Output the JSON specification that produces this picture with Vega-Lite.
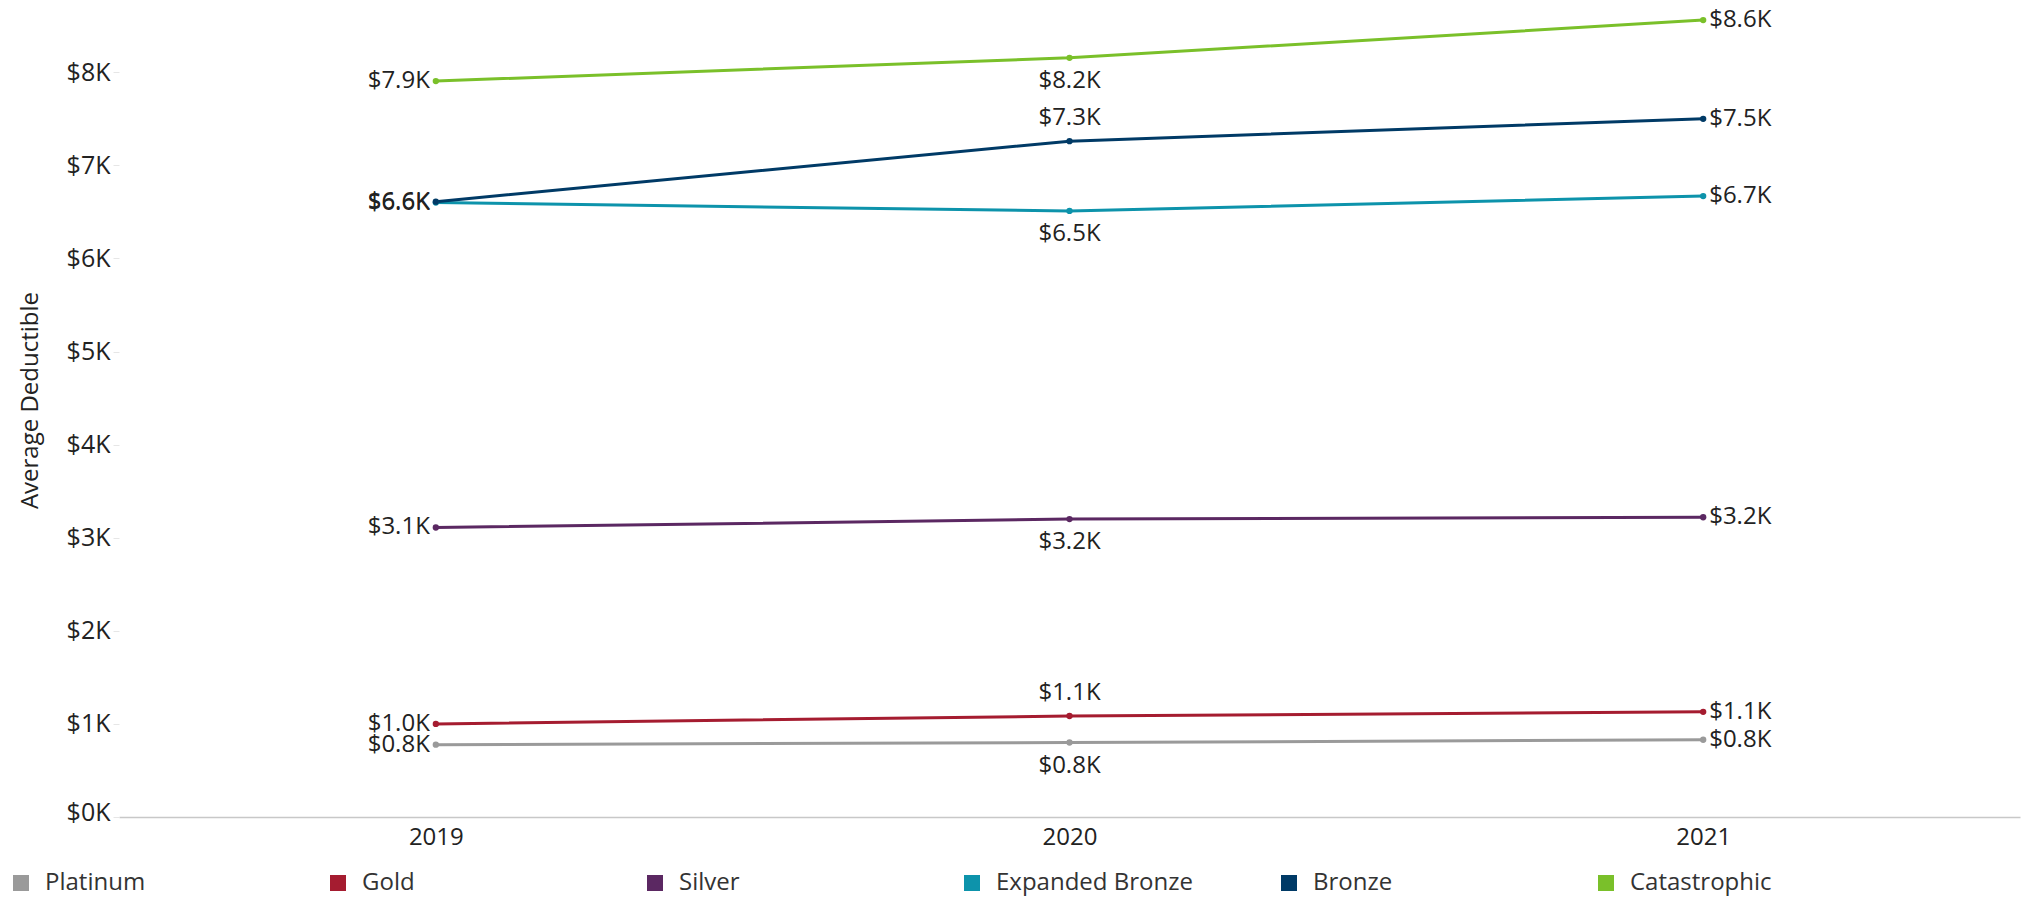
{
  "$schema": "https://vega.github.io/schema/vega-lite/v6.json",
  "autosize": {"type": "none"},
  "padding": {"left": 119, "top": 0, "right": 3, "bottom": 81},
  "width": 1901,
  "height": 817,
  "config": {
    "view": {"stroke": null},
    "font": "Open Sans",
    "background": "white"
  },
  "data": {
    "values": [
      {"year": "2019", "plan": "Platinum", "value": 777},
      {"year": "2020", "plan": "Platinum", "value": 800},
      {"year": "2021", "plan": "Platinum", "value": 830},
      {"year": "2019", "plan": "Gold", "value": 1000},
      {"year": "2020", "plan": "Gold", "value": 1085},
      {"year": "2021", "plan": "Gold", "value": 1130},
      {"year": "2019", "plan": "Silver", "value": 3110},
      {"year": "2020", "plan": "Silver", "value": 3200},
      {"year": "2021", "plan": "Silver", "value": 3220},
      {"year": "2019", "plan": "Expanded Bronze", "value": 6600},
      {"year": "2020", "plan": "Expanded Bronze", "value": 6510},
      {"year": "2021", "plan": "Expanded Bronze", "value": 6670},
      {"year": "2019", "plan": "Bronze", "value": 6610},
      {"year": "2020", "plan": "Bronze", "value": 7260},
      {"year": "2021", "plan": "Bronze", "value": 7500},
      {"year": "2019", "plan": "Catastrophic", "value": 7905},
      {"year": "2020", "plan": "Catastrophic", "value": 8155},
      {"year": "2021", "plan": "Catastrophic", "value": 8560}
    ]
  },
  "transform": [
    {"calculate": "'$' + format(datum.value / 1000, '.1f') + 'K'", "as": "label"}
  ],
  "encoding": {
    "x": {
      "field": "year",
      "type": "ordinal",
      "scale": {"type": "point", "padding": 0.5},
      "axis": {
        "title": null,
        "labelAngle": 0,
        "labelFontSize": 24,
        "labelColor": "#222",
        "labelPadding": 8,
        "ticks": false,
        "domain": true,
        "domainColor": "#c8c8c8",
        "domainWidth": 1.5,
        "grid": false
      }
    },
    "y": {
      "field": "value",
      "type": "quantitative",
      "scale": {"domain": [0, 8776], "nice": false, "zero": true},
      "axis": {
        "title": "Average Deductible",
        "titleFontSize": 24,
        "titleFontWeight": "normal",
        "titleColor": "#222",
        "titleX": -89,
        "titleY": 400,
        "titleAngle": 270,
        "titleAlign": "center",
        "titleBaseline": "middle",
        "values": [0, 1000, 2000, 3000, 4000, 5000, 6000, 7000, 8000],
        "labelExpr": "'$' + (datum.value / 1000) + 'K'",
        "labelFontSize": 25,
        "labelColor": "#222",
        "labelPadding": 3,
        "labelFlush": true,
        "labelFlushOffset": 8,
        "tickSize": 6,
        "tickColor": "#e6e6e6",
        "domain": false,
        "grid": false
      }
    },
    "color": {
      "field": "plan",
      "type": "nominal",
      "scale": {
        "domain": ["Platinum", "Gold", "Silver", "Expanded Bronze", "Bronze", "Catastrophic"],
        "range": ["#9a9a9a", "#a51c30", "#5b2862", "#0d93ab", "#003a66", "#7ac02a"]
      },
      "legend": {
        "title": null,
        "orient": "none",
        "direction": "horizontal",
        "columns": 6,
        "gridAlign": "all",
        "columnPadding": 84,
        "legendX": -110,
        "legendY": 871,
        "symbolType": "square",
        "symbolSize": 256,
        "symbolStrokeWidth": 0,
        "labelFontSize": 24,
        "labelColor": "#333",
        "labelOffset": 12,
        "labelLimit": 400
      }
    }
  },
  "layer": [
    {"mark": {"type": "line", "strokeWidth": 3}},
    {"mark": {"type": "point", "filled": true, "size": 40, "opacity": 1}},
    {
      "transform": [{"filter": "datum.year == '2019'"}],
      "mark": {"type": "text", "align": "right", "baseline": "middle", "dx": -6, "fontSize": 24, "color": "#222"},
      "encoding": {"text": {"field": "label"}, "color": {"value": "#222"}}
    },
    {
      "transform": [{"filter": "datum.year == '2021'"}],
      "mark": {"type": "text", "align": "left", "baseline": "middle", "dx": 6, "fontSize": 24, "color": "#222"},
      "encoding": {"text": {"field": "label"}, "color": {"value": "#222"}}
    },
    {
      "transform": [{"filter": "datum.year == '2020' && (datum.plan == 'Bronze' || datum.plan == 'Gold')"}],
      "mark": {"type": "text", "align": "center", "baseline": "middle", "dy": -23, "fontSize": 24, "color": "#222"},
      "encoding": {"text": {"field": "label"}, "color": {"value": "#222"}}
    },
    {
      "transform": [{"filter": "datum.year == '2020' && datum.plan != 'Bronze' && datum.plan != 'Gold'"}],
      "mark": {"type": "text", "align": "center", "baseline": "middle", "dy": 23, "fontSize": 24, "color": "#222"},
      "encoding": {"text": {"field": "label"}, "color": {"value": "#222"}}
    }
  ]
}
